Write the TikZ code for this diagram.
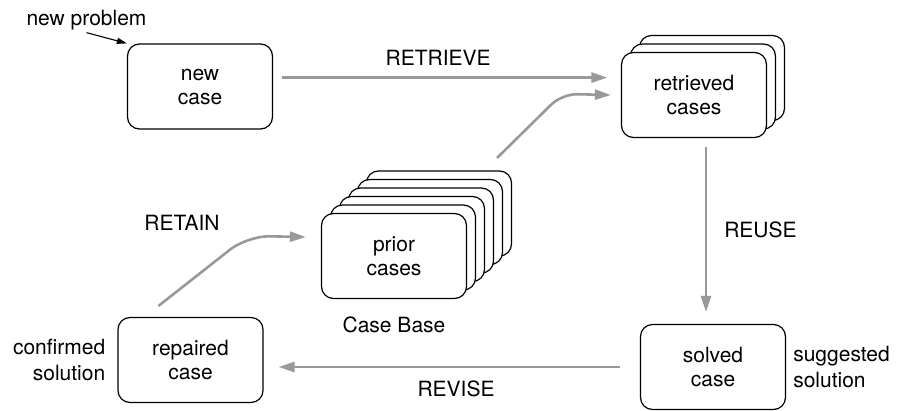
\documentclass[tikz,border=0pt]{standalone}
\usepackage{fontspec}
\setmainfont{TeX Gyre Heros}
\usetikzlibrary{arrows.meta,positioning,calc}

\begin{document}
\begin{tikzpicture}[
  x=1pt, y=-1pt,
  font=\fontsize{21}{24}\selectfont,
  casebox/.style={rectangle, rounded corners=12pt, draw=black, line width=1.2pt, fill=white,
                  minimum width=145pt, minimum height=85pt, align=center},
  flow/.style={-{Triangle[length=16pt,width=10pt]}, line width=2.6pt, draw=black!40},
  pointer/.style={-{Triangle[length=10pt,width=6pt]}, line width=1.1pt, draw=black},
  steplbl/.style={inner sep=0pt},
  sidelbl/.style={inner sep=0pt, font=\fontsize{21}{26}\selectfont},
]
\useasboundingbox (0,0) rectangle (900,410);

% cards lying behind the retrieved cases and the case base
\foreach \i in {2,1}
  \node[casebox, xshift=\i*9pt, yshift=\i*8.5pt] at (694,95) {};
\foreach \i in {5,...,1}
  \node[casebox, xshift=\i*9pt, yshift=\i*8.5pt] at (394,256) {};

\node[casebox] (newcase)   at (200,86.5) {new\\case};
\node[casebox] (retrieved) at (694,95)   {retrieved\\cases};
\node[casebox] (prior)     at (394,256)  {prior\\cases};
\node[casebox] (repaired)  at (190.5,360) {repaired\\case};
\node[casebox] (solved)    at (713,367)  {solved\\case};

\node[steplbl] (problem) at (86.5,20.5) {new problem};
\node[steplbl] (retain)  at (182,222.5) {RETAIN};
\node[steplbl, below=18pt of prior] (casebase) {Case Base};
\node[sidelbl, align=right, left=12pt of repaired] (confirmed) {confirmed\\solution};
\node[sidelbl, align=left, right=7pt of solved]    (suggested) {suggested\\solution};

\draw[pointer] ([yshift=-2pt]problem.south) -- (newcase.north west);

\draw[flow] ([xshift=9pt,yshift=8.9pt]newcase.east)
  -- node[steplbl, above=10.5pt, pos=0.48] (retrieve) {RETRIEVE}
  ([xshift=-13.5pt,yshift=17.4pt]retrieved.west);
\draw[flow] ([xshift=12pt,yshift=-9pt]retrieved.south)
  -- node[steplbl, right=17pt] (reuse) {REUSE}
  ([xshift=-7pt,yshift=12pt]solved.north);
\draw[flow] ([xshift=-20pt]solved.west)
  -- node[steplbl, below=13pt, pos=0.48] (revise) {REVISE}
  ([xshift=15pt,yshift=-7pt]repaired.east);
\draw[flow, rounded corners=22pt] ($(repaired.north)+(-32,-11)$) -- ++(89,-70)
  -- ($(prior.west)+(-15,-19)$);
\draw[flow, rounded corners=15pt] ($(prior.north east)+(30,-55)$) -- ++(65,-64)
  -- ($(retrieved.west)+(-10,0)$);

\end{tikzpicture}
\end{document}
